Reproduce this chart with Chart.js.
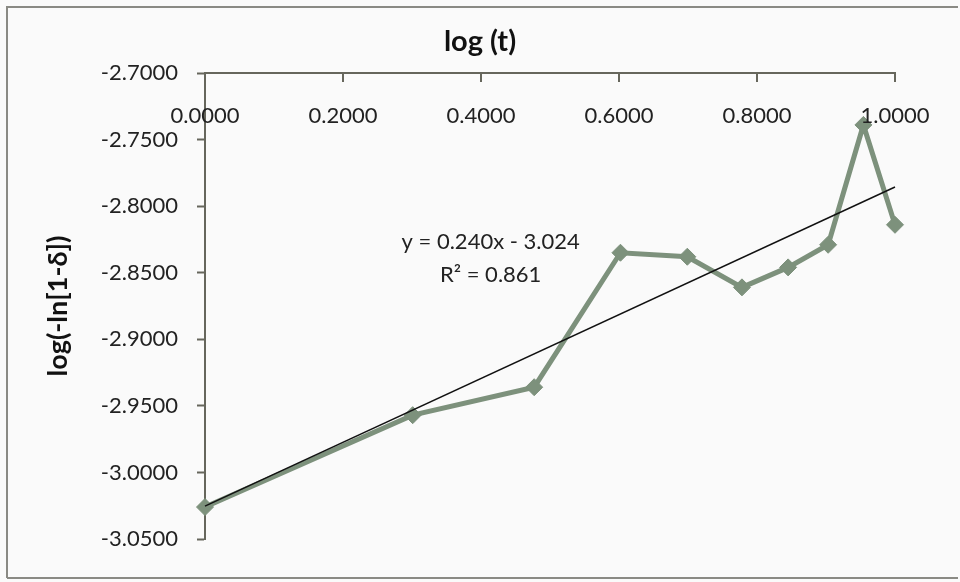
<!DOCTYPE html>
<html>
<head>
<meta charset="utf-8">
<script src="https://cdn.jsdelivr.net/npm/chart.js@4/dist/chart.umd.min.js"></script>
<style>
  html, body { margin: 0; padding: 0; background: #fafafa; }
  #wrap { position: relative; width: 960px; height: 582px; }
</style>
</head>
<body>
<div id="wrap"><canvas id="grafico" width="960" height="582"></canvas></div>
<script>
// log(t) para t = 1..10
const logT = [0.0000, 0.3010, 0.4771, 0.6021, 0.6990, 0.7782, 0.8451, 0.9031, 0.9542, 1.0000];
// log(-ln[1-δ])
const logLn = [-3.026, -2.957, -2.936, -2.835, -2.838, -2.861, -2.846, -2.829, -2.739, -2.814];
const xTicks = [0, 0.2, 0.4, 0.6, 0.8, 1.0];
const yTicks = [-3.05, -3.00, -2.95, -2.90, -2.85, -2.80, -2.75, -2.70];
const equacao = ['y = 0.240x - 3.024', 'R² = 0.861'];

// Ajuste linear (mínimos quadrados) a partir dos pontos
function regressao(xs, ys) {
    const n = xs.length;
    const mx = xs.reduce((a, b) => a + b, 0) / n;
    const my = ys.reduce((a, b) => a + b, 0) / n;
    let sxy = 0, sxx = 0;
    xs.forEach((x, i) => { sxy += (x - mx) * (ys[i] - my); sxx += (x - mx) * (x - mx); });
    const m = sxy / sxx;
    return { m: m, b: my - m * mx };
}
const fit = regressao(logT, logLn);
const tendencia = [xTicks[0], xTicks[xTicks.length - 1]].map(x => ({ x: x, y: fit.m * x + fit.b }));

const corSerie = '#7d917c';
const corEixo = '#66665c';
const fonte = 'Lato, "Open Sans", sans-serif';

// Borda externa, rótulos do eixo x abaixo da linha e texto da equação
const extras = {
    id: 'extras',
    beforeDraw(chart) {
        const ctx = chart.ctx;
        ctx.save();
        ctx.fillStyle = '#fafafa';
        ctx.fillRect(0, 0, chart.width, chart.height);
        ctx.strokeStyle = '#8a8a84';
        ctx.lineWidth = 2;
        ctx.beginPath();
        ctx.moveTo(7, 578); ctx.lineTo(7, 7); ctx.lineTo(958, 7);
        ctx.moveTo(7, 578); ctx.lineTo(958, 578);
        ctx.stroke();
        ctx.restore();
    },
    afterDraw(chart) {
        const ctx = chart.ctx;
        const x = chart.scales.x, y = chart.scales.y;
        const topo = chart.chartArea.top;
        ctx.save();
        ctx.strokeStyle = corEixo;
        ctx.lineWidth = 2;
        ctx.fillStyle = '#222';
        ctx.font = '22px ' + fonte;
        ctx.textAlign = 'center';
        ctx.textBaseline = 'middle';
        xTicks.forEach(v => {
            const px = x.getPixelForValue(v);
            ctx.beginPath();
            ctx.moveTo(px, topo);
            ctx.lineTo(px, topo + 9);
            ctx.stroke();
            ctx.fillText(v.toFixed(4), px, topo + 43);
        });
        // equação da linha de tendência
        ctx.fillText(equacao[0], x.getPixelForValue(0.414), y.getPixelForValue(-2.827));
        ctx.fillText(equacao[1], x.getPixelForValue(0.414), y.getPixelForValue(-2.852));
        ctx.restore();
    }
};

new Chart(document.getElementById('grafico'), {
    type: 'scatter',
    data: {
        datasets: [{
            label: 'log(-ln[1-δ])',
            data: logT.map((x, i) => ({ x: x, y: logLn[i] })),
            showLine: true,
            clip: false,
            borderColor: corSerie,
            borderWidth: 5,
            pointStyle: 'rectRot',
            pointRadius: 8.5,
            pointBackgroundColor: corSerie,
            pointBorderColor: corSerie,
            pointBorderWidth: 1,
            order: 2
        }, {
            label: 'Linear',
            data: tendencia,
            showLine: true,
            clip: false,
            borderColor: '#111',
            borderWidth: 1.5,
            pointRadius: 0,
            order: 1
        }]
    },
    options: {
        responsive: false,
        animation: false,
        layout: { padding: { left: 0, right: 0, top: 0, bottom: 43 } },
        plugins: {
            legend: { display: false },
            tooltip: { enabled: false },
            title: {
                display: true,
                text: 'log (t)',
                color: '#111',
                font: { family: fonte, size: 29, weight: 'bold', lineHeight: 1.2 },
                padding: { top: 24, bottom: 0 }
            }
        },
        scales: {
            x: {
                type: 'linear',
                position: 'top',
                min: 0,
                max: 1,
                afterBuildTicks: s => { s.ticks = xTicks.map(v => ({ value: v })); },
                ticks: { display: false },
                grid: { drawOnChartArea: false, drawTicks: false },
                border: { color: corEixo, width: 2 },
                afterFit: s => { s.height = 73 - (24 + 29 * 1.2); }
            },
            y: {
                type: 'linear',
                min: -3.05,
                max: -2.70,
                afterBuildTicks: s => { s.ticks = yTicks.map(v => ({ value: v })); },
                ticks: {
                    color: '#222',
                    font: { family: fonte, size: 22 },
                    padding: 19,
                    callback: v => v.toFixed(4)
                },
                grid: { drawOnChartArea: false, drawTicks: true, tickLength: 8, tickColor: corEixo, tickWidth: 2 },
                border: { color: corEixo, width: 2 },
                title: {
                    display: true,
                    text: 'log(-ln[1-δ])',
                    color: '#111',
                    font: { family: fonte, size: 27, weight: 'bold' },
                    padding: { top: 42, bottom: 0 }
                },
                afterFit: s => { s.width = 205; }
            },
            // eixo vazio à direita só para reservar a margem
            yDir: {
                type: 'linear',
                position: 'right',
                min: -3.05,
                max: -2.70,
                ticks: { display: false },
                grid: { display: false },
                border: { display: false },
                afterFit: s => { s.width = 65; }
            }
        }
    },
    plugins: [extras]
});
</script>
</body>
</html>
